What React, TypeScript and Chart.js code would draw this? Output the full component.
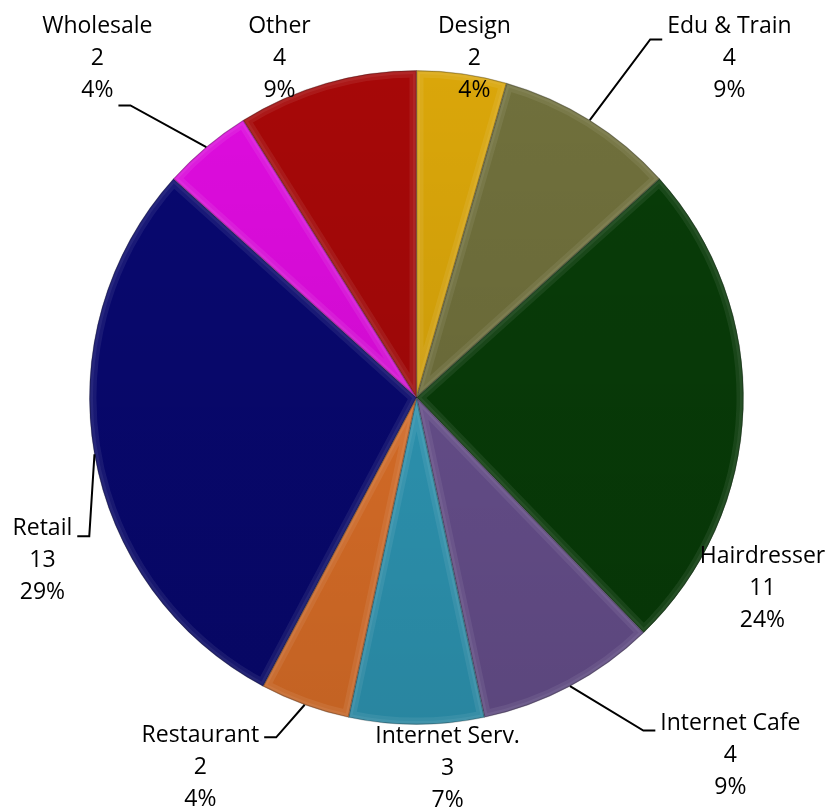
import React, { useEffect, useRef } from "react";
import { Chart, registerables } from "chart.js";

Chart.register(...registerables);

// ---- data ----
const categories = [
  "Design",
  "Edu & Train",
  "Hairdresser",
  "Internet Cafe",
  "Internet Serv.",
  "Restaurant",
  "Retail",
  "Wholesale",
  "Other",
];
const counts = [2, 4, 11, 4, 3, 2, 13, 2, 4];

// ---- styles ----
const sliceColors = [
  "rgb(218,166,10)",
  "rgb(112,112,60)",
  "rgb(8,60,8)",
  "rgb(104,80,142)",
  "rgb(46,152,182)",
  "rgb(222,112,40)",
  "rgb(8,8,112)",
  "rgb(222,12,222)",
  "rgb(166,8,8)",
];

// label layout: centre of label block relative to pie centre, in radius units
// leader: which text line it attaches to, side of attachment, vertical offset (px)
type Leader = { line: number; side: "left" | "right"; dy: number } | null;
const labelLayout: { x: number; y: number; leader: Leader }[] = [
  { x: 0.177, y: -1.037, leader: null },
  { x: 0.957, y: -1.037, leader: { line: 0, side: "left", dy: 13 } },
  { x: 1.058, y: 0.584, leader: null },
  { x: 0.96, y: 1.095, leader: { line: 0, side: "left", dy: 7 } },
  { x: 0.095, y: 1.135, leader: null },
  { x: -0.661, y: 1.131, leader: { line: 0, side: "right", dy: 2 } },
  { x: -1.144, y: 0.498, leader: { line: 0, side: "right", dy: 8 } },
  { x: -0.976, y: -1.037, leader: { line: 2, side: "right", dy: 15 } },
  { x: -0.419, y: -1.037, leader: null },
];

const FONT = '23px "Open Sans", sans-serif';
const LINE_H = 32;

const labelPlugin = {
  id: "pieLabels",
  afterDatasetsDraw(chart: any) {
    const ctx: CanvasRenderingContext2D = chart.ctx;
    const meta = chart.getDatasetMeta(0);
    const total = counts.reduce((a, b) => a + b, 0);

    // subtle bevel-like shading on each slice
    meta.data.forEach((arc: any) => {
      const { x, y, startAngle, endAngle, outerRadius } = arc.getProps(
        ["x", "y", "startAngle", "endAngle", "outerRadius"],
        true
      );
      ctx.save();
      ctx.beginPath();
      ctx.moveTo(x, y);
      ctx.arc(x, y, outerRadius, startAngle, endAngle);
      ctx.closePath();
      ctx.clip();
      const g = ctx.createLinearGradient(x, y - outerRadius, x, y + outerRadius);
      g.addColorStop(0, "rgba(0,0,0,0)");
      g.addColorStop(1, "rgba(0,0,0,0.12)");
      ctx.fillStyle = g;
      ctx.fill();
      ctx.strokeStyle = "rgba(255,255,255,0.07)";
      ctx.lineWidth = 14;
      ctx.stroke();
      ctx.strokeStyle = "rgba(255,255,255,0.06)";
      ctx.lineWidth = 7;
      ctx.stroke();
      ctx.strokeStyle = "rgba(0,0,0,0.18)";
      ctx.lineWidth = 2;
      ctx.stroke();
      ctx.restore();
    });

    ctx.save();
    ctx.font = FONT;
    ctx.fillStyle = "#000";
    ctx.textAlign = "center";
    ctx.textBaseline = "middle";
    meta.data.forEach((arc: any, i: number) => {
      const { x, y, startAngle, endAngle, outerRadius } = arc.getProps(
        ["x", "y", "startAngle", "endAngle", "outerRadius"],
        true
      );
      const lay = labelLayout[i];
      const lx = x + lay.x * outerRadius;
      const ly = y + lay.y * outerRadius;
      const pct = Math.round((counts[i] / total) * 100) + "%";
      const lines = [categories[i], String(counts[i]), pct];
      lines.forEach((t, k) => {
        ctx.fillText(t, lx, ly + (k - 1) * LINE_H);
      });
      if (lay.leader) {
        const { line, side, dy } = lay.leader;
        const w = ctx.measureText(lines[line]).width;
        const ay = ly + (line - 1) * LINE_H + dy;
        const ax = side === "right" ? lx + w / 2 + 5 : lx - w / 2 - 5;
        const ex = side === "right" ? ax + 12 : ax - 12;
        const mid = (startAngle + endAngle) / 2;
        const px = x + Math.cos(mid) * outerRadius;
        const py = y + Math.sin(mid) * outerRadius;
        ctx.beginPath();
        ctx.moveTo(ax, ay);
        ctx.lineTo(ex, ay);
        ctx.lineTo(px, py);
        ctx.strokeStyle = "#000";
        ctx.lineWidth = 2;
        ctx.stroke();
      }
    });
    ctx.restore();
  },
};

export default function App() {
  const ref = useRef<HTMLCanvasElement | null>(null);
  useEffect(() => {
    if (!ref.current) return;
    const chart = new Chart(ref.current, {
      type: "pie",
      data: {
        labels: categories,
        datasets: [
          {
            data: counts,
            backgroundColor: sliceColors,
            borderColor: "rgba(0,0,0,0.2)",
            borderWidth: 1,
            hoverOffset: 0,
          },
        ],
      },
      options: {
        responsive: false,
        animation: false,
        events: [],
        layout: { padding: { top: 70, left: 89, right: 82, bottom: 86 } },
        plugins: {
          legend: { display: false },
          tooltip: { enabled: false },
        },
      },
      plugins: [labelPlugin],
    });
    return () => chart.destroy();
  }, []);
  return (
    <div style={{ position: "absolute", left: 0, top: 0, width: 826, height: 811, background: "#fff" }}>
      <canvas ref={ref} width={826} height={811} style={{ display: "block" }} />
    </div>
  );
}
